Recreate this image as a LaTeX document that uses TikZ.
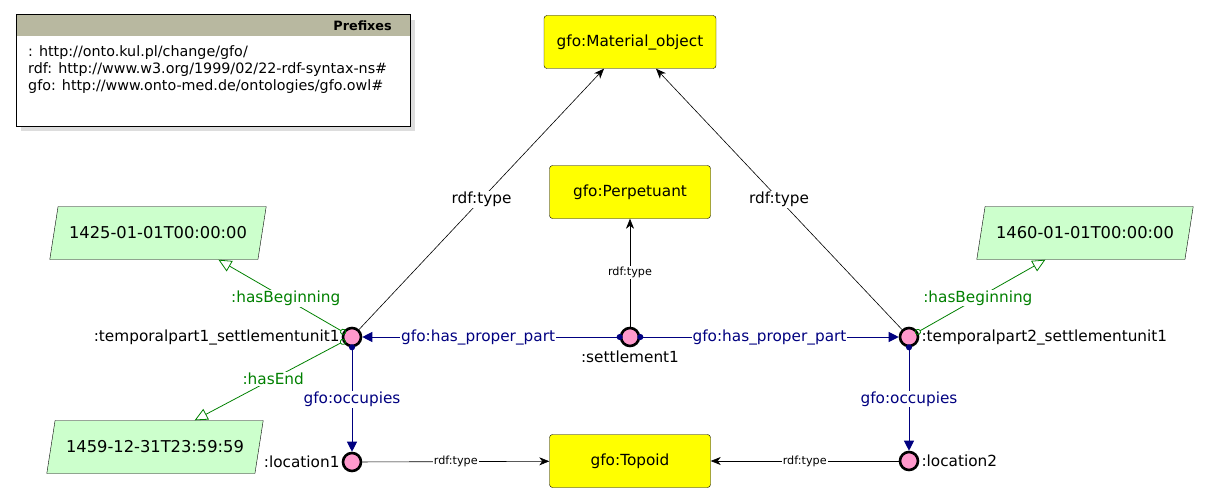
\documentclass[tikz,border=0pt]{standalone}
\usepackage{fontspec}
\setmainfont{DejaVu Sans}
\usetikzlibrary{positioning}
\usetikzlibrary{calc}
\usetikzlibrary{shapes.geometric}
\usetikzlibrary{arrows.meta}
\definecolor{clsyellow}{RGB}{255,255,0}
\definecolor{instpink}{RGB}{255,153,204}
\definecolor{litgreen}{RGB}{204,255,204}
\definecolor{propnavy}{RGB}{0,0,128}
\definecolor{propgreen}{RGB}{0,128,0}
\definecolor{headgray}{RGB}{184,184,160}
\definecolor{shadowgray}{RGB}{221,221,221}

\begin{document}
\begin{tikzpicture}[x=1pt,y=-1pt,
        cls/.style={draw,fill=clsyellow,rounded corners=3pt,minimum width=161pt,minimum height=53pt,font=\fontsize{15.3}{18}\selectfont},
        inst/.style={circle,draw,line width=2.6pt,fill=instpink,minimum size=18pt,inner sep=0pt},
        lit/.style={trapezium,trapezium left angle=68,trapezium right angle=112,trapezium stretches=true,
            draw,fill=litgreen,minimum width=217pt,minimum height=53pt,font=\fontsize{16.3}{19}\selectfont},
        instlbl/.style={inner sep=1pt,font=\fontsize{15.3}{18}\selectfont},
        typearrow/.style={draw=black,line width=0.6pt,-{Stealth[length=10pt,width=8pt,inset=3pt]}},
        objarrow/.style={draw=propnavy,line width=1pt,{Circle[length=6pt]}-{Triangle[length=10pt,width=10pt]},shorten <=-3pt},
        dataarrow/.style={draw=propgreen,line width=0.8pt,{Circle[open,length=6pt]}-{Triangle[open,length=13pt,width=12pt,fill=white]},shorten <=-3pt},
        typelbl/.style={fill=white,inner sep=1pt,font=\fontsize{15.3}{18}\selectfont},
        smalltype/.style={fill=white,inner sep=1pt,font=\fontsize{11.2}{13}\selectfont},
        navylbl/.style={fill=white,inner sep=1pt,text=propnavy,font=\fontsize{15.3}{18}\selectfont},
        greenlbl/.style={fill=white,inner sep=1pt,text=propgreen,font=\fontsize{15.3}{18}\selectfont}]
    \useasboundingbox (0,0) rectangle (1212,503);

    % prefixes box
    \fill[shadowgray] (21,20) rectangle (415,131);
    \fill[white] (16,15) rectangle (410,126);
    \fill[headgray] (16,15) rectangle (410,36);
    \draw[line width=1pt] (16,15) rectangle (410,126);
    \node[anchor=east,inner sep=0pt,font=\fontsize{12.8}{15}\selectfont\bfseries] (pfxhead) at (392,26) {Prefixes};
    \node[anchor=north west,align=left,inner sep=0pt,font=\fontsize{14.3}{17}\selectfont] (pfxtext) at (28,45)
        {: http://onto.kul.pl/change/gfo/\\rdf: http://www.w3.org/1999/02/22-rdf-syntax-ns\#\\gfo: http://www.onto-med.de/ontologies/gfo.owl\#};

    % classes
    \node[cls,minimum width=172pt] (matobj) at (630,42) {gfo:Material\_object};
    \node[cls] (perp) at (630,192) {gfo:Perpetuant};
    \node[cls] (topoid) at (630,461) {gfo:Topoid};

    % literals
    \node[lit] (beg1) at (158,233) {1425-01-01T00:00:00};
    \node[lit] (end1) at (155,447) {1459-12-31T23:59:59};
    \node[lit] (beg2) at (1085,233) {1460-01-01T00:00:00};

    % individuals
    \node[inst] (tp1) at (352,337) {};
    \node[inst] (st) at (630,337) {};
    \node[inst] (tp2) at (909,337) {};
    \node[inst] (loc1) at (352,462) {};
    \node[inst] (loc2) at (909,461) {};
    \node[instlbl,left=1pt of tp1] (tp1lbl) {:temporalpart1\_settlementunit1};
    \node[instlbl,below=2pt of st] (stlbl) {:settlement1};
    \node[instlbl,right=1pt of tp2] (tp2lbl) {:temporalpart2\_settlementunit1};
    \node[instlbl,left=1pt of loc1] (loc1lbl) {:location1};
    \node[instlbl,right=1pt of loc2] (loc2lbl) {:location2};

    % rdf:type
    \draw[typearrow] (tp1) -- node[typelbl] (ty1) {rdf:type} ([xshift=-26pt]matobj.south);
    \draw[typearrow] (tp2) -- node[typelbl] (ty2) {rdf:type} ([xshift=26pt]matobj.south);
    \draw[typearrow] (st) -- node[smalltype] (ty3) {rdf:type} (perp);
    \draw[typearrow] (loc1) -- node[smalltype] (ty4) {rdf:type} (topoid);
    \draw[typearrow] (loc2) -- node[smalltype] (ty5) {rdf:type} (topoid);

    % object properties
    \draw[objarrow] (st) -- node[navylbl,pos=0.55] (pp1) {gfo:has\_proper\_part} (tp1);
    \draw[objarrow] (st) -- node[navylbl] (pp2) {gfo:has\_proper\_part} (tp2);
    \draw[objarrow] (tp1) -- node[navylbl] (oc1) {gfo:occupies} (loc1);
    \draw[objarrow] (tp2) -- node[navylbl] (oc2) {gfo:occupies} (loc2);

    % data properties
    \draw[dataarrow] (tp1) -- node[greenlbl,pos=0.46] (hb1) {:hasBeginning}
        ($(beg1.bottom left corner)!0.81!(beg1.bottom right corner)$);
    \draw[dataarrow] (tp1) -- node[greenlbl,pos=0.47] (he1) {:hasEnd}
        ($(end1.top left corner)!0.67!(end1.top right corner)$);
    \draw[dataarrow] (tp2) -- node[greenlbl,pos=0.47] (hb2) {:hasBeginning}
        ($(beg2.bottom left corner)!0.33!(beg2.bottom right corner)$);
\end{tikzpicture}
\end{document}
